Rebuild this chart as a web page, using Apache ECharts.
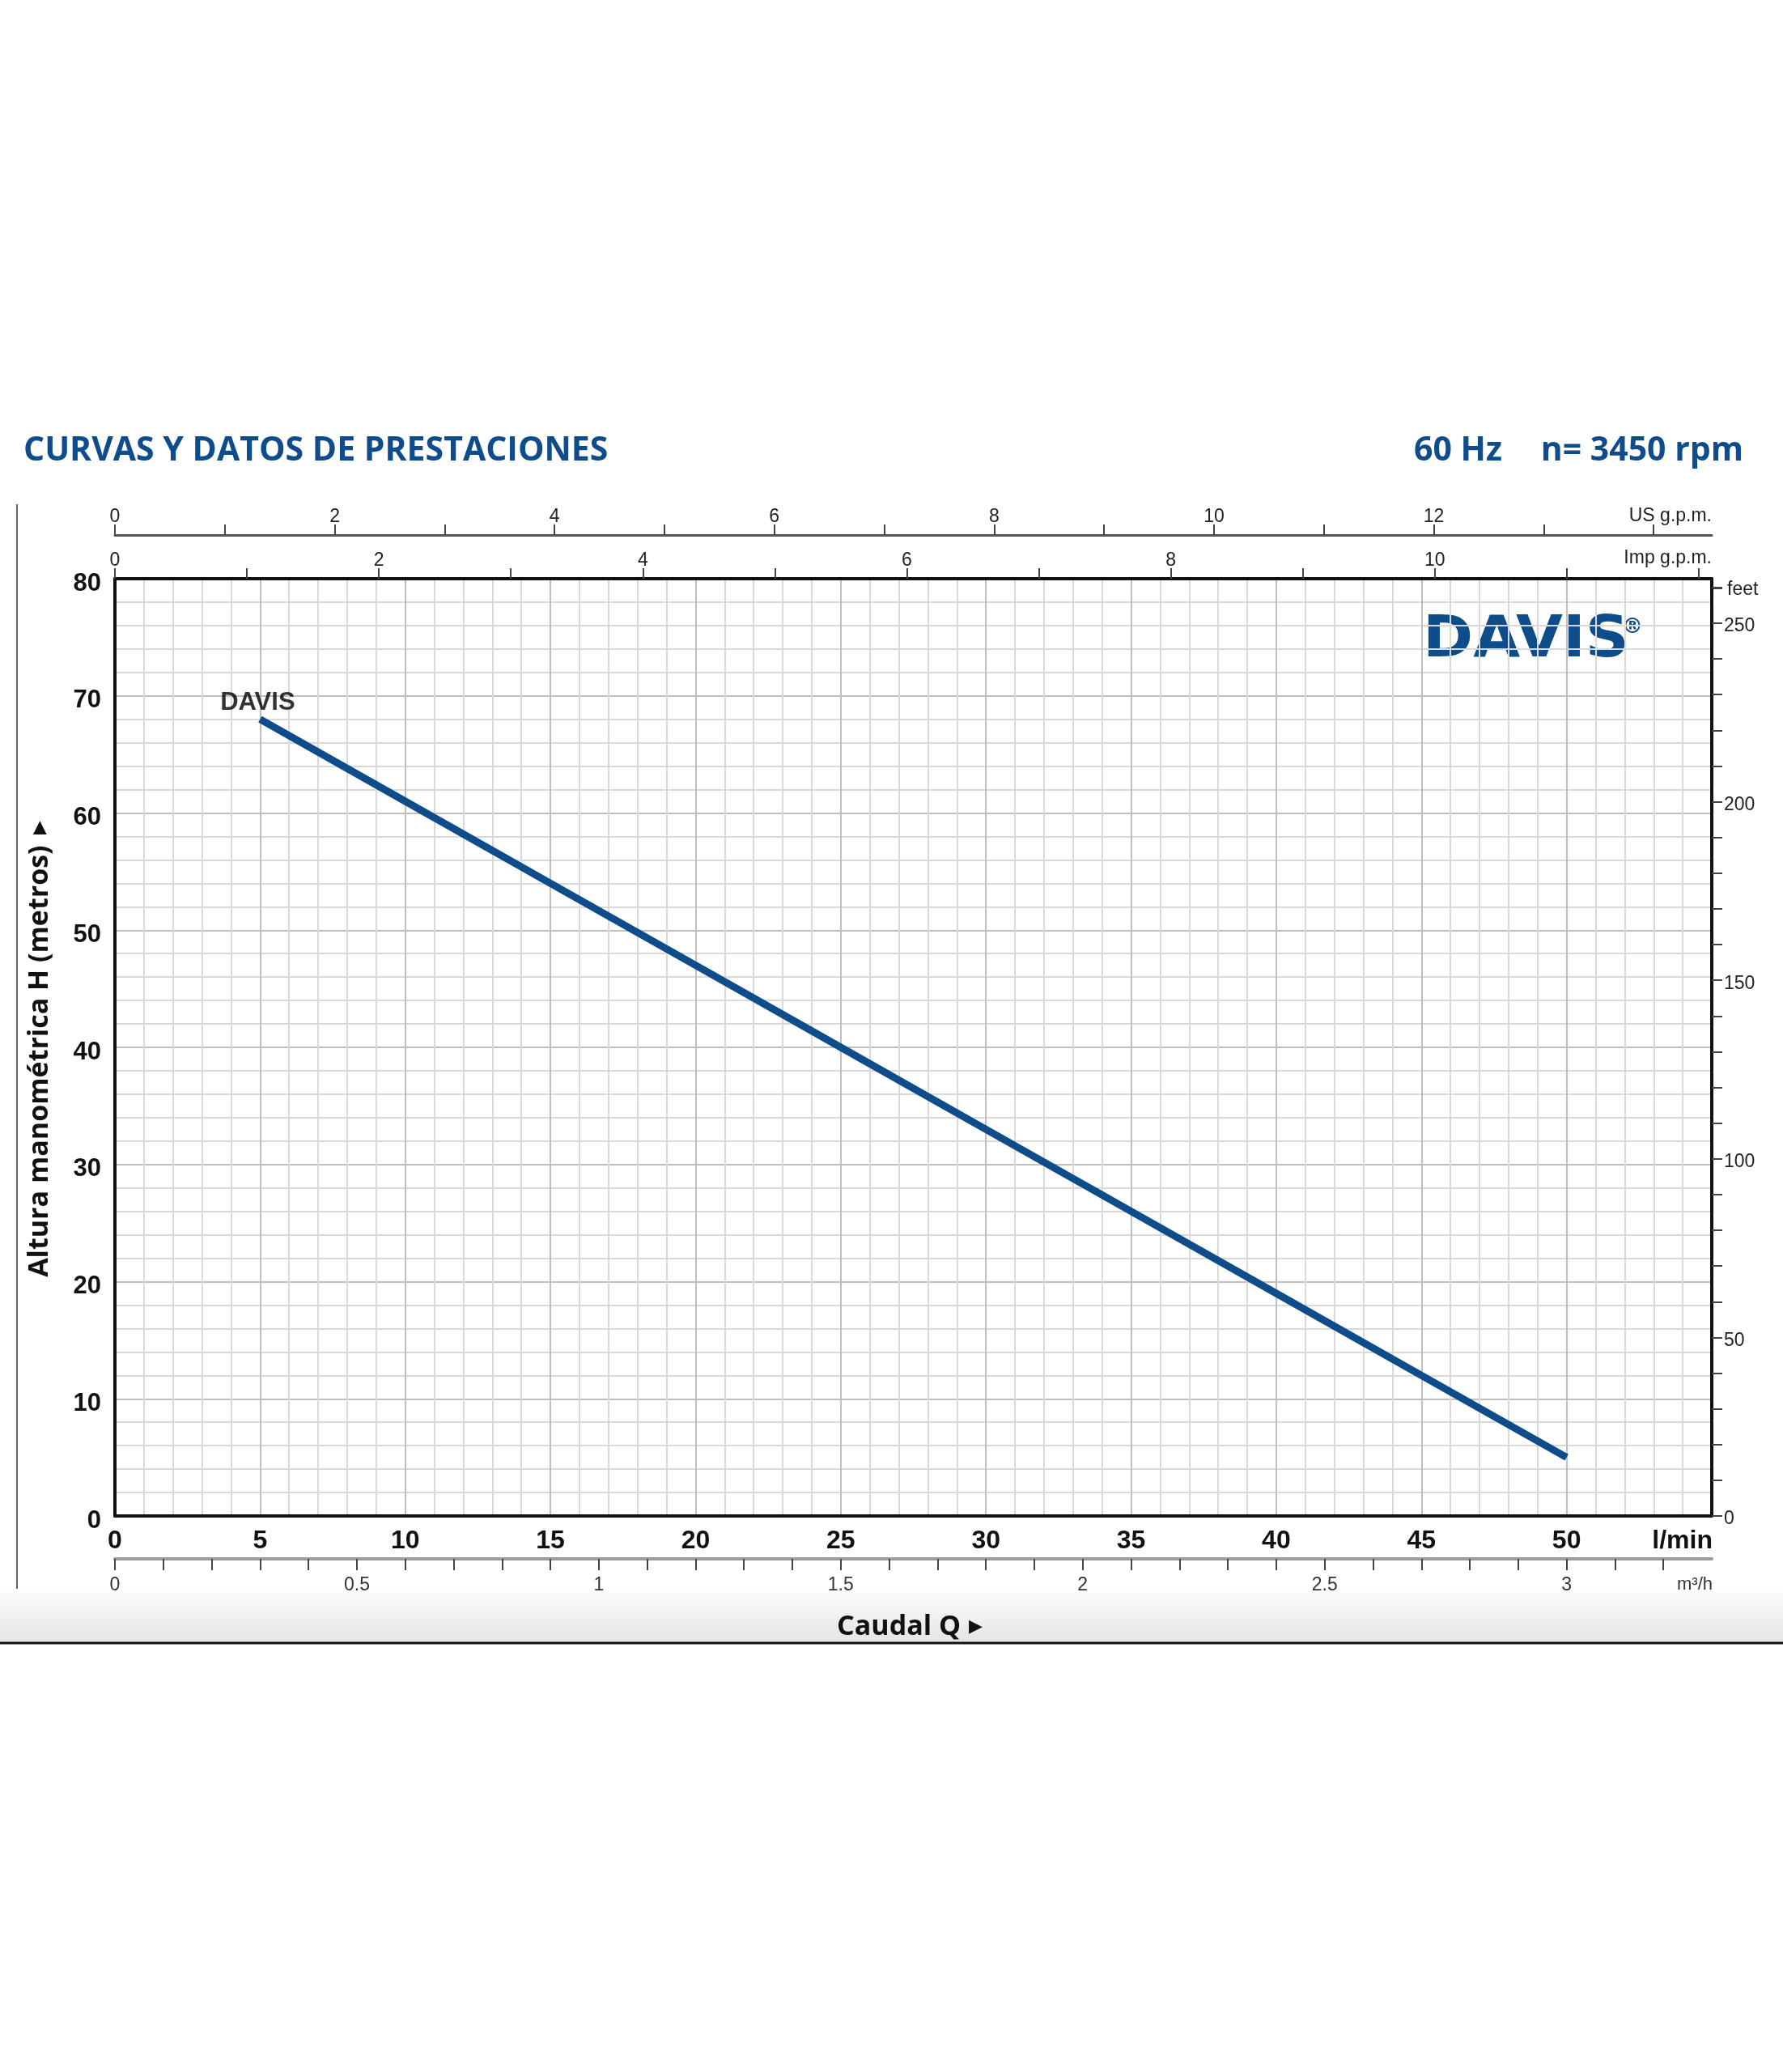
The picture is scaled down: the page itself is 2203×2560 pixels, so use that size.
<!DOCTYPE html>
<html>
<head>
<meta charset="utf-8">
<script src="https://cdn.jsdelivr.net/npm/echarts@6/dist/echarts.min.js"></script>
<style>
html,body{margin:0;padding:0;background:#fff;}
#chart{width:2203px;height:2560px;}
</style>
</head>
<body>
<div id="chart"></div>
<script>
// ---- data ----
const flowLpm = [5, 10, 15, 20, 25, 30, 35, 40, 45, 50];
const headM   = [68, 61, 54, 47, 40, 33, 26, 19, 12, 5];
const curveName = 'DAVIS';

// ---- tick / label arrays ----
const usTicks = [0,1,2,3,4,5,6,7,8,9,10,11,12,13,14];
const usLabels = [0,2,4,6,8,10,12];
const impTicks = [0,1,2,3,4,5,6,7,8,9,10,11,12];
const impLabels = [0,2,4,6,8,10];
const m3hTicks = [0,0.1,0.2,0.3,0.4,0.5,0.6,0.7,0.8,0.9,1,1.1,1.2,1.3,1.4,1.5,1.6,1.7,1.8,1.9,2,2.1,2.2,2.3,2.4,2.5,2.6,2.7,2.8,2.9,3,3.1,3.2];
const m3hLabels = [0,0.5,1,1.5,2,2.5,3];
const feetTicks = [0,10,20,30,40,50,60,70,80,90,100,110,120,130,140,150,160,170,180,190,200,210,220,230,240,250,260];
const feetLabels = [0,50,100,150,200,250];

const X_MAX = 55, Y_MAX = 80;
const NARROW = "'Liberation Sans Narrow','Liberation Sans',Arial,sans-serif";
const HUMAN = "'Open Sans','Noto Sans',sans-serif";
const BLUE = '#0f4c8c';

const G = {left:142, top:715, right:2115, bottom:1873};

const chart = echarts.init(document.getElementById('chart'), null, {renderer:'canvas'});

const smallLabel = {fontFamily: NARROW, fontSize: 23, color: '#222'};

const option = {
  backgroundColor: '#fff',
  animation: false,
  grid: {left: G.left, top: G.top, width: G.right - G.left, height: G.bottom - G.top, show: false},
  xAxis: [
    {
      type: 'value', min: 0, max: X_MAX, interval: 5, position: 'bottom',
      axisLine: {show: true, onZero: false, lineStyle: {color: '#111', width: 4}},
      axisTick: {show: false},
      axisLabel: {fontFamily: NARROW, fontWeight: 'bold', fontSize: 32, color: '#111', margin: 15, showMaxLabel: false},
      splitLine: {show: true, lineStyle: {color: '#bfbfbf', width: 2}},
      minorTick: {show: false, splitNumber: 5},
      minorSplitLine: {show: true, lineStyle: {color: '#d9d9d9', width: 2}}
    },
    {
      type: 'value', min: 0, max: X_MAX / 3.78541, position: 'top', offset: 54,
      axisLine: {show: true, onZero: false, lineStyle: {color: '#555', width: 3}},
      axisTick: {show: true, inside: false, length: 13, customValues: usTicks, lineStyle: {color: '#444', width: 2}},
      axisLabel: Object.assign({customValues: usLabels, margin: 11}, smallLabel),
      splitLine: {show: false}
    },
    {
      type: 'value', min: 0, max: X_MAX / 4.54609, position: 'top', offset: 0,
      axisLine: {show: true, onZero: false, lineStyle: {color: '#111', width: 4}},
      axisTick: {show: true, inside: false, length: 13, customValues: impTicks, lineStyle: {color: '#444', width: 2}},
      axisLabel: Object.assign({customValues: impLabels, margin: 11}, smallLabel),
      splitLine: {show: false}
    },
    {
      type: 'value', min: 0, max: X_MAX * 0.06, position: 'bottom', offset: 53,
      axisLine: {show: true, onZero: false, lineStyle: {color: '#9c9c9c', width: 4}},
      axisTick: {show: true, inside: false, length: 14, customValues: m3hTicks, lineStyle: {color: '#444', width: 2}},
      axisLabel: Object.assign({customValues: m3hLabels, margin: 21}, smallLabel, {color: '#333'}),
      splitLine: {show: false}
    }
  ],
  yAxis: [
    {
      type: 'value', min: 0, max: Y_MAX, interval: 10, position: 'left',
      axisLine: {show: true, onZero: false, lineStyle: {color: '#111', width: 4}},
      axisTick: {show: false},
      axisLabel: {fontFamily: NARROW, fontWeight: 'bold', fontSize: 31, color: '#111', margin: 17, verticalAlign: 'top', lineHeight: 12},
      splitLine: {show: true, lineStyle: {color: '#bfbfbf', width: 2}},
      minorTick: {show: false, splitNumber: 5},
      minorSplitLine: {show: true, lineStyle: {color: '#d9d9d9', width: 2}}
    },
    {
      type: 'value', min: 0, max: Y_MAX * 3.28084, position: 'right', offset: 0,
      axisLine: {show: true, onZero: false, lineStyle: {color: '#111', width: 4}},
      axisTick: {show: true, inside: false, length: 13, customValues: feetTicks, lineStyle: {color: '#444', width: 2}},
      axisLabel: Object.assign({customValues: feetLabels, margin: 15, verticalAlign: 'top', lineHeight: 8}, smallLabel),
      splitLine: {show: false}
    }
  ],
  series: [
    {
      name: curveName, type: 'line', xAxisIndex: 0, yAxisIndex: 0,
      data: flowLpm.map((x, i) => [x, headM[i]]),
      showSymbol: false, symbol: 'none', smooth: false,
      lineStyle: {color: BLUE, width: 9, cap: 'butt'},
      z: 5
    },
    {
      name: curveName + ' label', type: 'scatter', xAxisIndex: 0, yAxisIndex: 0,
      data: [[flowLpm[0], headM[0]]],
      symbolSize: 1, itemStyle: {color: 'rgba(0,0,0,0)'},
      label: {show: true, position: 'top', distance: 4, offset: [-3, 0], formatter: curveName,
              fontFamily: NARROW, fontWeight: 'bold', fontSize: 31, color: '#000'},
      silent: true, z: 6
    }
  ],
  graphic: [
    // band at the bottom
    {type: 'rect', shape: {x: 0, y: 1958, width: 2203, height: 72}, z: -10,
     style: {fill: new echarts.graphic.LinearGradient(0, 0, 0, 1, [{offset: 0, color: '#ffffff'}, {offset: 1, color: '#e4e4e4'}])}},
    {type: 'line', shape: {x1: 0, y1: 2030, x2: 2203, y2: 2030}, style: {stroke: '#111', lineWidth: 3}},
    {type: 'line', shape: {x1: 21, y1: 623, x2: 21, y2: 1963}, style: {stroke: '#666', lineWidth: 2}},
    // titles
    {type: 'text', x: 29, y: 557, style: {text: 'CURVAS Y DATOS DE PRESTACIONES', font: 'bold 41px ' + HUMAN, fill: BLUE, align: 'left', verticalAlign: 'middle', textAlign: 'left', textVerticalAlign: 'middle'}},
    {type: 'text', x: 1747, y: 557, style: {text: '60 Hz', font: 'bold 41px ' + HUMAN, fill: BLUE, align: 'left', verticalAlign: 'middle', textAlign: 'left', textVerticalAlign: 'middle'}},
    {type: 'text', x: 2154, y: 557, style: {text: 'n= 3450 rpm', font: 'bold 41px ' + HUMAN, fill: BLUE, align: 'right', verticalAlign: 'middle', textAlign: 'right', textVerticalAlign: 'middle'}},
    // unit labels
    {type: 'text', x: 2115, y: 638, style: {text: 'US g.p.m.', font: '23px ' + NARROW, fill: '#222', align: 'right', verticalAlign: 'middle', textAlign: 'right', textVerticalAlign: 'middle'}},
    {type: 'text', x: 2115, y: 690, style: {text: 'Imp g.p.m.', font: '23px ' + NARROW, fill: '#222', align: 'right', verticalAlign: 'middle', textAlign: 'right', textVerticalAlign: 'middle'}},
    {type: 'line', shape: {x1: 2115, y1: 727, x2: 2128, y2: 727}, style: {stroke: '#444', lineWidth: 2}},
    {type: 'text', x: 2134, y: 729, style: {text: 'feet', font: '23px ' + NARROW, fill: '#222', align: 'left', verticalAlign: 'middle', textAlign: 'left', textVerticalAlign: 'middle'}},
    {type: 'text', x: 2116, y: 1904, style: {text: 'l/min', font: 'bold 32px ' + NARROW, fill: '#111', align: 'right', verticalAlign: 'middle', textAlign: 'right', textVerticalAlign: 'middle'}},
    {type: 'text', x: 2116, y: 1958, style: {text: 'm³/h', font: '22px ' + NARROW, fill: '#333', align: 'right', verticalAlign: 'middle', textAlign: 'right', textVerticalAlign: 'middle'}},
    // axis titles
    {type: 'text', x: 1124, y: 2010, style: {
      text: '{a|Caudal Q}   {b|▶}', align: 'center', verticalAlign: 'middle', textAlign: 'center', textVerticalAlign: 'middle',
      rich: {a: {font: 'bold 34px ' + HUMAN, fill: '#111', color: '#111'}, b: {font: '22px "DejaVu Sans"', fill: '#111', color: '#111'}}}},
    {type: 'text', x: 49, y: 1296, rotation: Math.PI / 2, style: {
      text: '{a|Altura manométrica H (metros)}    {b|▶}', align: 'center', verticalAlign: 'middle', textAlign: 'center', textVerticalAlign: 'middle',
      rich: {a: {font: 'bold 34px ' + HUMAN, fill: '#111', color: '#111'}, b: {font: '22px "DejaVu Sans"', fill: '#111', color: '#111'}}}},
    // brand logo
    {type: 'text', x: 1758, y: 792, scaleX: 1.04, style: {text: 'DAVIS', font: '900 72px "DejaVu Sans"', fill: BLUE, align: 'left', verticalAlign: 'middle', textAlign: 'left', textVerticalAlign: 'middle'}},
    {type: 'text', x: 2004, y: 775, style: {text: '®', font: 'bold 26px "DejaVu Sans"', fill: BLUE, align: 'left', verticalAlign: 'middle', textAlign: 'left', textVerticalAlign: 'middle'}}
  ]
};
chart.setOption(option);
</script>
</body>
</html>
